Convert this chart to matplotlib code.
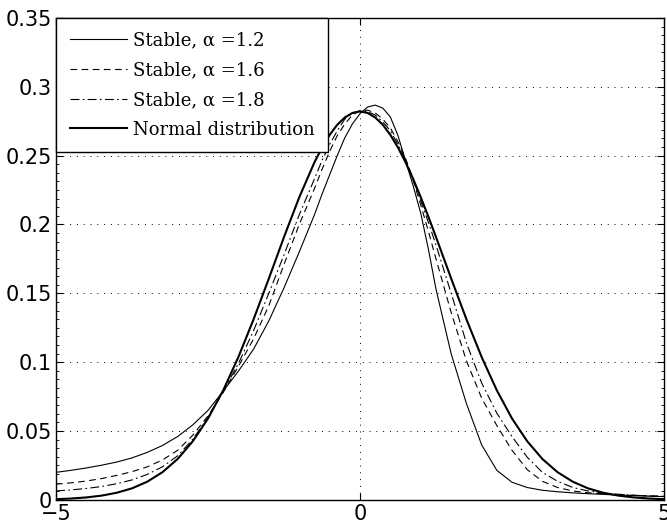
import numpy as np
import matplotlib
matplotlib.use('Agg')
import matplotlib.pyplot as plt
from matplotlib.ticker import MultipleLocator, AutoMinorLocator, FuncFormatter

# x positions (finer near the peak)
x = np.array([-5, -4.75, -4.5, -4.25, -4, -3.75, -3.5, -3.25, -3, -2.75,
              -2.5, -2.25, -2, -1.75, -1.5, -1.25, -1,
              -0.75, -0.625, -0.5, -0.375, -0.25, -0.125, 0, 0.125, 0.25,
              0.375, 0.5, 0.625, 0.75, 0.875, 1.0, 1.125, 1.25,
              1.5, 1.75, 2, 2.25, 2.5, 2.75, 3, 3.25, 3.5, 3.75, 4, 4.25,
              4.5, 4.75, 5])

# Stable, alpha = 1.2
stable_12 = [0.0200, 0.0215, 0.0232, 0.0252, 0.0275, 0.0305, 0.0345, 0.0395,
             0.0460, 0.0545, 0.0650, 0.0790, 0.0935, 0.1095, 0.1300, 0.1540,
             0.1800,
             0.2070, 0.2220, 0.2360, 0.2500, 0.2630, 0.2730, 0.2805, 0.2853,
             0.2867, 0.2845, 0.2780, 0.2645, 0.2460, 0.2280, 0.2080, 0.1820,
             0.1530,
             0.1060, 0.0700, 0.0400, 0.0215, 0.0128, 0.0090, 0.0070, 0.0059,
             0.0051, 0.0045, 0.0040, 0.0035, 0.0031, 0.0027, 0.0024]
# Stable, alpha = 1.6
stable_16 = [0.0114, 0.0124, 0.0137, 0.0155, 0.0178, 0.0205, 0.0240, 0.0290,
             0.0360, 0.0470, 0.0610, 0.0780, 0.0970, 0.1170, 0.1410, 0.1710,
             0.2000,
             0.2260, 0.2400, 0.2530, 0.2645, 0.2730, 0.2795, 0.2825, 0.2830,
             0.2810, 0.2765, 0.2700, 0.2600, 0.2480, 0.2320, 0.2140, 0.1950,
             0.1750,
             0.1360, 0.1010, 0.0740, 0.0540, 0.0360, 0.0220, 0.0135, 0.0090,
             0.0065, 0.0052, 0.0044, 0.0038, 0.0033, 0.0029, 0.0026]
# Stable, alpha = 1.8
stable_18 = [0.0065, 0.0073, 0.0083, 0.0097, 0.0118, 0.0145, 0.0185, 0.0240,
             0.0320, 0.0440, 0.0600, 0.0790, 0.0990, 0.1230, 0.1500, 0.1780,
             0.2070,
             0.2330, 0.2465, 0.2580, 0.2680, 0.2765, 0.2810, 0.2825, 0.2820,
             0.2795, 0.2745, 0.2680, 0.2580, 0.2470, 0.2330, 0.2170, 0.2015,
             0.1850,
             0.1500, 0.1140, 0.0850, 0.0630, 0.0460, 0.0310, 0.0200, 0.0135,
             0.0090, 0.0065, 0.0050, 0.0041, 0.0034, 0.0029, 0.0025]
# Normal distribution
normal = [0.0005, 0.0010, 0.0018, 0.0031, 0.0052, 0.0084, 0.0132, 0.0201,
          0.0297, 0.0426, 0.0591, 0.0796, 0.1038, 0.1312, 0.1607, 0.1909,
          0.2197,
          0.2451, 0.2558, 0.2650, 0.2724, 0.2777, 0.2810, 0.2821, 0.2810,
          0.2777, 0.2724, 0.2650, 0.2558, 0.2451, 0.2330, 0.2197, 0.2056,
          0.1909,
          0.1607, 0.1312, 0.1038, 0.0796, 0.0591, 0.0426, 0.0297, 0.0201,
          0.0132, 0.0084, 0.0052, 0.0031, 0.0018, 0.0010, 0.0005]

labels = ['Stable, \u03b1 =1.2', 'Stable, \u03b1 =1.6',
          'Stable, \u03b1 =1.8', 'Normal distribution']

fig = plt.figure(figsize=(6.67, 5.24), dpi=100)
ax = fig.add_axes([0.084, 0.046, 0.9115, 0.9198])

ax.plot(x, stable_12, color='k', linestyle='-', linewidth=0.8, label=labels[0])
ax.plot(x, stable_16, color='k', linestyle=(0, (6, 4)), linewidth=0.8, label=labels[1])
ax.plot(x, stable_18, color='k', linestyle=(0, (8, 3, 1.5, 3)), linewidth=0.8, label=labels[2])
ax.plot(x, normal, color='k', linestyle='-', linewidth=1.5, label=labels[3])

ax.set_xlim(-5, 5)
ax.set_ylim(0, 0.35)
ax.set_xticks([-5, 0, 5])
ax.yaxis.set_major_locator(MultipleLocator(0.05))
ax.yaxis.set_minor_locator(AutoMinorLocator(8))
ax.yaxis.set_major_formatter(FuncFormatter(lambda v, p: '%g' % round(v, 2)))
ax.tick_params(which='both', direction='in', top=True, right=True,
               labelsize=15, colors='k', pad=3)
ax.tick_params(which='major', length=5)
ax.tick_params(which='minor', length=2.5)
ax.grid(True, which='major', color='k', linestyle=(0, (1, 6)), linewidth=0.7)
for s in ax.spines.values():
    s.set_linewidth(1.0)

leg = ax.legend(loc='upper left', borderaxespad=0, fancybox=False,
                framealpha=1, edgecolor='k', handlelength=3.2,
                prop={'family': 'DejaVu Serif', 'size': 13},
                labelspacing=0.65, handletextpad=0.3, borderpad=0.75)
leg.get_frame().set_linewidth(1.0)

fig.savefig('out.png', dpi=100)
